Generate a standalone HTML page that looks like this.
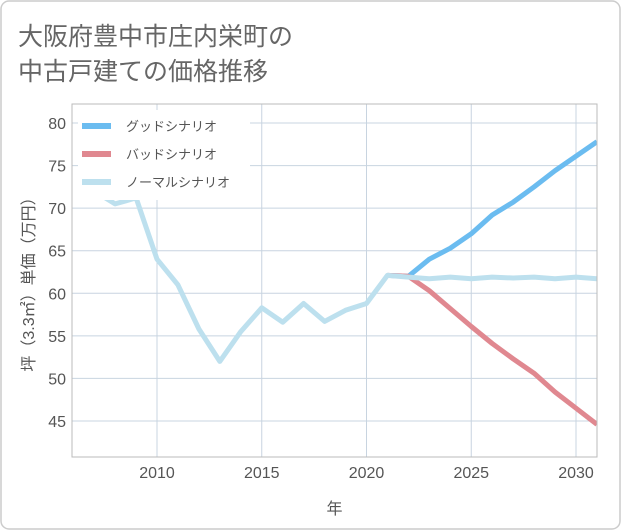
<!DOCTYPE html>
<html><head><meta charset="utf-8"><style>
body{margin:0;background:#fff;}
svg{display:block;font-family:"Liberation Sans","Noto Sans CJK JP",sans-serif;}
</style></head><body>
<svg id="chart" width="621" height="530">
<rect x="1" y="1" width="619" height="528" rx="8" fill="#fff" stroke="#ccc" stroke-width="1.5"/>
<text x="18" y="45" font-size="25" fill="#666">大阪府豊中市庄内栄町の</text>
<text x="18" y="80" font-size="25" fill="#666">中古戸建ての価格推移</text>
<g id="grid"></g>
<g id="lines"></g>
<g id="axes"></g>
<g id="legend"></g>
</svg>
<script>
const years=[2007,2008,2009,2010,2011,2012,2013,2014,2015,2016,2017,2018,2019,2020,2021,2022,2023,2024,2025,2026,2027,2028,2029,2030,2031];
const normal=[72,70.5,71.2,64,61,55.8,52,55.5,58.3,56.6,58.8,56.7,58,58.8,62.1,61.9,61.7,61.9,61.7,61.9,61.8,61.9,61.7,61.9,61.7];
const futureYears=[2021,2022,2023,2024,2025,2026,2027,2028,2029,2030,2031];
const good=[62.1,62,64,65.3,67,69.2,70.7,72.5,74.4,76.1,77.8];
const bad=[62.1,62,60.3,58.2,56.1,54.1,52.3,50.6,48.4,46.5,44.6];
const xTicks=[2010,2015,2020,2025,2030];
const yTicks=[45,50,55,60,65,70,75,80];
const L=72,R=597,T=104,B=457;
const X=y=>157+(y-2010)*20.95;
const Y=v=>123+(80-v)*8.514;
const NS="http://www.w3.org/2000/svg";
function mk(tag,attrs,parent){const e=document.createElementNS(NS,tag);for(const k in attrs)e.setAttribute(k,attrs[k]);parent.appendChild(e);return e;}
const grid=document.getElementById('grid'),axes=document.getElementById('axes'),lines=document.getElementById('lines'),legend=document.getElementById('legend');
const svg=document.getElementById('chart');
const defs=mk('defs',{},svg);const cp=mk('clipPath',{id:'clip'},defs);mk('rect',{x:L,y:T,width:R-L,height:B-T},cp);
lines.setAttribute('clip-path','url(#clip)');
yTicks.forEach(v=>{const l=mk('line',{x1:L,x2:R,y1:Y(v),y2:Y(v),stroke:'#c8d4e0','stroke-width':1},grid);

const t=mk('text',{x:L-6,y:Y(v)+6,'font-size':16,fill:'#555','text-anchor':'end'},axes);t.textContent=v;
});
xTicks.forEach(v=>{const l=mk('line',{x1:X(v),x2:X(v),y1:T,y2:B,stroke:'#c8d4e0','stroke-width':1},grid);

const t=mk('text',{x:X(v),y:B+21,'font-size':16,fill:'#555','text-anchor':'middle'},axes);t.textContent=v;
});
const fr=mk('rect',{x:L,y:T,width:R-L,height:B-T,fill:'none',stroke:'#bbb','stroke-width':1},axes);

const xt=mk('text',{x:(L+R)/2,y:514,'font-size':16,fill:'#555','text-anchor':'middle'},axes);xt.textContent='年';

const yt=mk('text',{x:0,y:0,'font-size':16,fill:'#555','text-anchor':'middle',transform:'translate(34,'+((T+B)/2)+') rotate(-90)'},axes);yt.textContent='坪（3.3㎡）単価（万円）';

function path(xs,vs,color,name){const d=xs.map((x,i)=>(i?'L':'M')+X(x).toFixed(1)+','+Y(vs[i]).toFixed(1)).join('');
const p=mk('path',{d:d,fill:'none',stroke:color,'stroke-width':5,'stroke-linejoin':'round'},lines);
}
path(futureYears,good,'#6bbcf0','good-scenario-line');
path(futureYears,bad,'#e08890','bad-scenario-line');
path(years,normal,'#bde0ee','normal-scenario-line');
const lb=mk('rect',{x:78,y:110,width:172,height:90,fill:'#fff'},legend);

[['グッドシナリオ','#6bbcf0'],['バッドシナリオ','#e08890'],['ノーマルシナリオ','#bde0ee']].forEach((e,i)=>{
const y=126+i*28;const g=mk('g',{},legend);
mk('line',{x1:82,x2:111,y1:y,y2:y,stroke:e[1],'stroke-width':6},g);
const t=mk('text',{x:126,y:y+5,'font-size':13,fill:'#555'},g);t.textContent=e[0];});
</script>
</body></html>
